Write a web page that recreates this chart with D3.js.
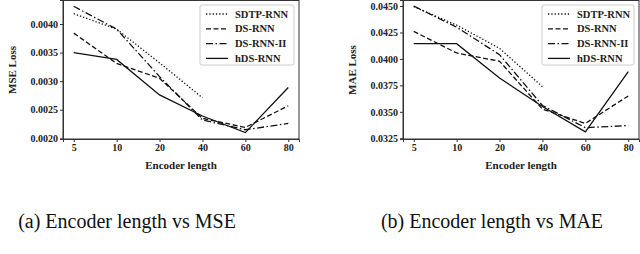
<!DOCTYPE html>
<html>
<head>
<meta charset="utf-8">
<script src="https://cdn.jsdelivr.net/npm/d3@7"></script>
<style>
  body { margin: 0; background: #fff; }
  svg { display: block; }
</style>
</head>
<body>
<svg id="chart" width="640" height="254"></svg>
<script>
const encoderLengths = [5, 10, 20, 40, 60, 80];
const seriesNames = ["SDTP-RNN", "DS-RNN", "DS-RNN-II", "hDS-RNN"];
const dashes = ["1.3,2", "5,2.5", "7,2.5,1.5,2.5", null];

// MSE (SDTP-RNN only goes up to 40)
const mseSdtp = [0.00418, 0.00391, 0.00332, 0.00271];
const mseDs = [0.00384, 0.00331, 0.00305, 0.00235, 0.00219, 0.00257];
const mseDs2 = [0.00431, 0.00391, 0.00308, 0.00232, 0.00215, 0.00226];
const mseHds = [0.00350, 0.00338, 0.00276, 0.00239, 0.00210, 0.00289];
const mseTicks = [0.0020, 0.0025, 0.0030, 0.0035, 0.0040];

// MAE
const maeSdtp = [0.04494, 0.0432, 0.0410, 0.03737];
const maeDs = [0.0426, 0.04056, 0.03978, 0.03525, 0.0339, 0.0365];
const maeDs2 = [0.0450, 0.0430, 0.0404, 0.0356, 0.0335, 0.0337];
const maeHds = [0.04144, 0.04144, 0.0382, 0.0355, 0.0331, 0.0388];
const maeTicks = [0.0325, 0.0350, 0.0375, 0.0400, 0.0425, 0.0450];

const svg = d3.select("#chart");
const bold = "'Liberation Serif', 'Times New Roman', serif";

function panel(opt) {
  const g = svg.append("g");
  const x = d3.scalePoint().domain(encoderLengths).range([opt.x0, opt.x1]).padding(0.25);
  const y = d3.scaleLinear().domain(opt.yDomain).range([139, 0]);

  // frame
  g.append("rect")
    .attr("x", opt.x0).attr("y", 0.5)
    .attr("width", opt.x1 - opt.x0).attr("height", 138.5)
    .attr("fill", "none").attr("stroke", "#333").attr("stroke-width", 1);

  const xAxis = g.append("g").attr("transform", "translate(0,139)")
    .call(d3.axisBottom(x).tickSize(3).tickPadding(2));
  const yAxis = g.append("g").attr("transform", `translate(${opt.x0},0)`)
    .call(d3.axisLeft(y).tickValues(opt.ticks).tickFormat(d3.format(".4f")).tickSize(3).tickPadding(2));
  [xAxis, yAxis].forEach(a => {
    a.select(".domain").attr("stroke", "#333");
    a.selectAll(".tick line").attr("stroke", "#333");
    a.selectAll("text").attr("font-family", bold).attr("font-weight", "bold")
      .attr("font-size", 10).attr("fill", "#222");
  });

  g.append("text")
    .attr("x", (opt.x0 + opt.x1) / 2).attr("y", 169)
    .attr("text-anchor", "middle")
    .attr("font-family", bold).attr("font-weight", "bold").attr("font-size", 11)
    .attr("fill", "#222").text("Encoder length");

  g.append("text")
    .attr("transform", `translate(${opt.labelX},70) rotate(-90)`)
    .attr("text-anchor", "middle")
    .attr("font-family", bold).attr("font-weight", "bold").attr("font-size", 11)
    .attr("fill", "#222").text(opt.yLabel);

  const line = d3.line()
    .x((d, i) => x(encoderLengths[i]))
    .y(d => y(d));

  opt.series.forEach((vals, i) => {
    g.append("path")
      .attr("d", line(vals))
      .attr("fill", "none")
      .attr("stroke", "#111")
      .attr("stroke-width", 1.3)
      .attr("stroke-dasharray", dashes[i]);
  });

  // legend
  const lx = opt.legendX, lw = opt.x1 - 5 - lx;
  g.append("rect")
    .attr("x", lx).attr("y", 5).attr("width", lw).attr("height", 60)
    .attr("rx", 2).attr("fill", "#fff").attr("stroke", "#ccc");
  seriesNames.forEach((name, i) => {
    const ly = 14 + i * 14.8;
    g.append("line")
      .attr("x1", lx + 6).attr("x2", lx + 28)
      .attr("y1", ly).attr("y2", ly)
      .attr("stroke", "#111").attr("stroke-width", 1.3)
      .attr("stroke-dasharray", dashes[i]);
    g.append("text")
      .attr("x", lx + 35).attr("y", ly + 3.5)
      .attr("font-family", bold).attr("font-weight", "bold").attr("font-size", 10.5)
      .attr("fill", "#222").text(name);
  });

  svg.append("text")
    .attr("x", opt.captionX).attr("y", 228)
    .attr("text-anchor", "middle")
    .attr("font-family", bold).attr("font-size", 20)
    .attr("fill", "#111").text(opt.caption);
}

panel({
  x0: 63, x1: 299, labelX: 16,
  yDomain: [0.001988, 0.00442], ticks: mseTicks,
  series: [mseSdtp, mseDs, mseDs2, mseHds],
  yLabel: "MSE Loss", legendX: 200,
  caption: "(a) Encoder length vs MSE", captionX: 127
});

panel({
  x0: 403, x1: 639, labelX: 356,
  yDomain: [0.03243, 0.04557], ticks: maeTicks,
  series: [maeSdtp, maeDs, maeDs2, maeHds],
  yLabel: "MAE Loss", legendX: 542,
  caption: "(b) Encoder length vs MAE", captionX: 492
});
</script>
</body>
</html>
